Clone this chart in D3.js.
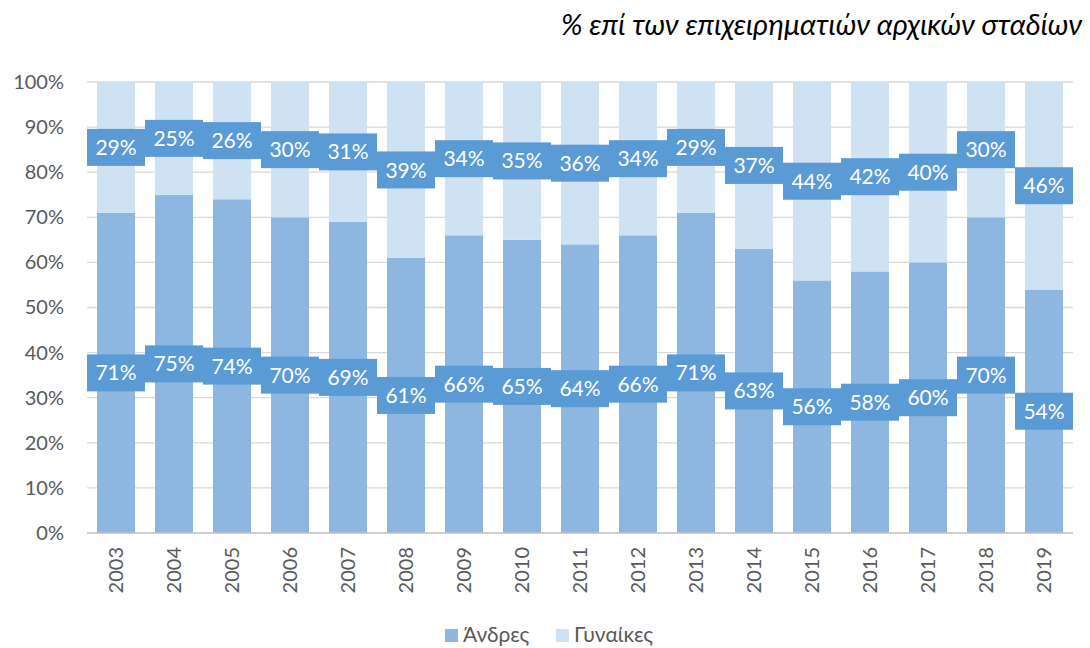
<!DOCTYPE html>
<html><head><meta charset="utf-8">
<script src="https://cdn.jsdelivr.net/npm/d3@7"></script>
<style>body{margin:0;background:#fff}svg{display:block}</style>
</head><body>
<svg id="c" width="1090" height="648"></svg>
<script>
const years = ["2003","2004","2005","2006","2007","2008","2009","2010","2011","2012","2013","2014","2015","2016","2017","2018","2019"];
const andres = [71,75,74,70,69,61,66,65,64,66,71,63,56,58,60,70,54];
const gynaikes = [29,25,26,30,31,39,34,35,36,34,29,37,44,42,40,30,46];
const yTicks = [0,10,20,30,40,50,60,70,80,90,100];
const seriesNames = ["Άνδρες","Γυναίκες"];
const titleText = "% επί των επιχειρηματιών αρχικών σταδίων";

(function(){
const font = "Lato, 'Noto Sans', sans-serif";
const svg = d3.select("#c");
const pl = 87, pr = 1073, pt = 82, pb = 533;
const x = d3.scaleBand().domain(years).range([pl, pr]).paddingInner(0.345).paddingOuter(0.1725);
const y = d3.scaleLinear().domain([0,100]).range([pb, pt]);
const cAndres = "#8db7e0", cGyn = "#cfe2f3", cBox = "#5b9bd5";

svg.append("text").attr("x", 1082).attr("y", 35).attr("text-anchor","end")
  .attr("font-family", font).attr("font-style","italic").attr("font-size", 29).attr("fill","#000").text(titleText);

svg.append("g").selectAll("line").data(yTicks.filter(d=>d>0)).join("line")
  .attr("x1", pl).attr("x2", pr).attr("y1", d=>y(d)).attr("y2", d=>y(d))
  .attr("stroke","#d9d9d9").attr("stroke-width",1.3);

const yAxis = d3.axisLeft(y).tickValues(yTicks).tickFormat(d=>d+"%").tickSize(0).tickPadding(0);
const yg = svg.append("g").attr("transform",`translate(64,0)`).call(yAxis);
yg.select(".domain").remove();
yg.selectAll("text").attr("font-family",font).attr("font-size",20).attr("fill","#595959");

const g = svg.append("g");
g.selectAll("rect.a").data(years).join("rect").attr("class","a")
  .attr("x", d=>x(d)).attr("width", x.bandwidth())
  .attr("y", (d,i)=>y(andres[i])).attr("height",(d,i)=>y(0)-y(andres[i])).attr("fill",cAndres);
g.selectAll("rect.g").data(years).join("rect").attr("class","g")
  .attr("x", d=>x(d)).attr("width", x.bandwidth())
  .attr("y", (d,i)=>y(andres[i]+gynaikes[i])).attr("height",(d,i)=>y(andres[i])-y(andres[i]+gynaikes[i])).attr("fill",cGyn);

svg.append("line").attr("x1",pl).attr("x2",pr).attr("y1",pb).attr("y2",pb).attr("stroke","#bfbfbf").attr("stroke-width",1.5);

const xAxis = d3.axisBottom(x).tickSize(0).tickPadding(0);
const xg = svg.append("g").attr("transform",`translate(0,${pb})`).call(xAxis);
xg.select(".domain").remove();
xg.selectAll("text").attr("font-family",font).attr("font-size",20).attr("fill","#595959")
  .attr("transform","rotate(-90)").attr("text-anchor","end").attr("dy","0.35em").attr("x",-14).attr("y",0);

const bw = 58, bh = 37;
function labels(vals, base){
  const lg = svg.append("g");
  const items = years.map((yr,i)=>({yr, v: vals[i], cy: y(base(i) + vals[i]/2)}));
  lg.selectAll("rect").data(items).join("rect")
    .attr("x", d=>x(d.yr)+x.bandwidth()/2-bw/2).attr("y", d=>d.cy-bh/2)
    .attr("width", bw).attr("height", bh).attr("fill", cBox);
  lg.selectAll("text").data(items).join("text")
    .attr("x", d=>x(d.yr)+x.bandwidth()/2).attr("y", d=>d.cy).attr("dy","0.36em")
    .attr("text-anchor","middle").attr("font-family",font).attr("font-size",21).attr("fill","#fff")
    .text(d=>d.v+"%");
}
labels(andres, i=>0);
labels(gynaikes, i=>andres[i]);

const leg = svg.append("g");
const legItems = [{n:seriesNames[0], c:cAndres, x:445},{n:seriesNames[1], c:cGyn, x:556}];
leg.selectAll("rect").data(legItems).join("rect").attr("x",d=>d.x).attr("y",629).attr("width",13).attr("height",13).attr("fill",d=>d.c);
leg.selectAll("text").data(legItems).join("text").attr("x",d=>d.x+18).attr("y",642)
  .attr("font-family",font).attr("font-size",21).attr("fill","#595959").text(d=>d.n);
})();
</script>
</body></html>
